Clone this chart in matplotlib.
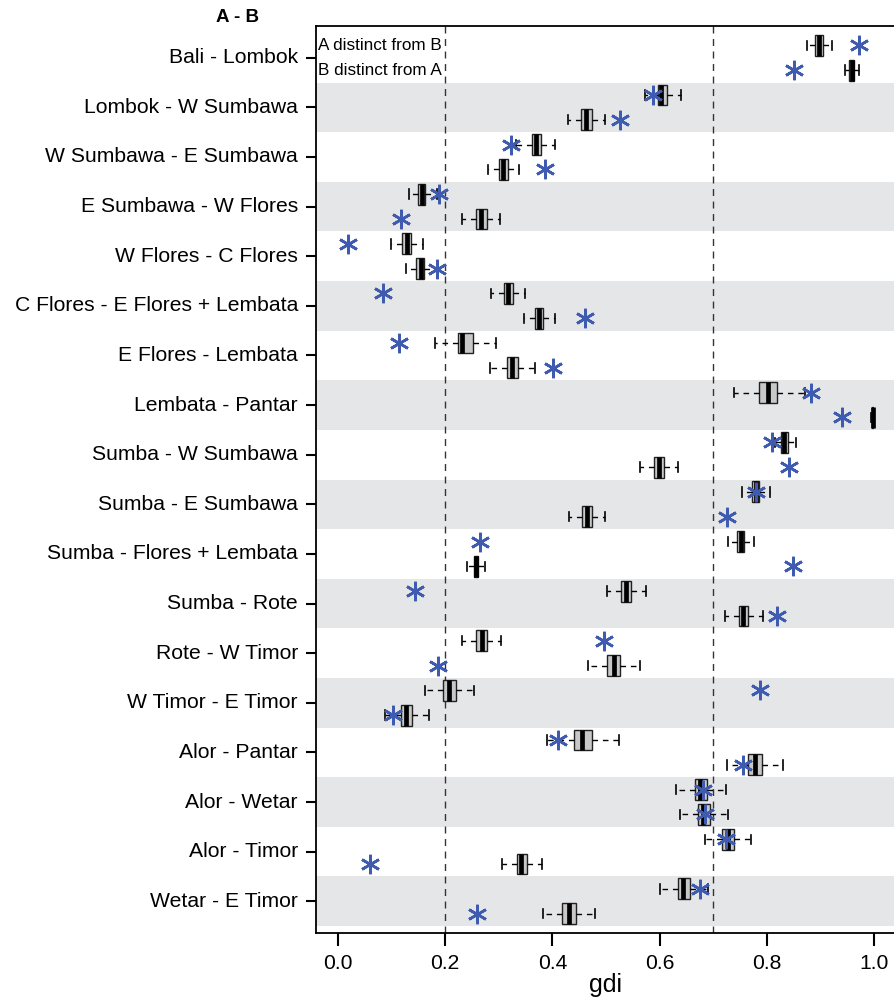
import numpy as np
import matplotlib
matplotlib.use('Agg')
import matplotlib.pyplot as plt

plt.rcParams['font.family'] = ['Liberation Sans', 'DejaVu Sans']

pairs = ['Bali - Lombok', 'Lombok - W Sumbawa', 'W Sumbawa - E Sumbawa', 'E Sumbawa - W Flores',
         'W Flores - C Flores', 'C Flores - E Flores + Lembata', 'E Flores - Lembata', 'Lembata - Pantar',
         'Sumba - W Sumbawa', 'Sumba - E Sumbawa', 'Sumba - Flores + Lembata', 'Sumba - Rote',
         'Rote - W Timor', 'W Timor - E Timor', 'Alor - Pantar', 'Alor - Wetar', 'Alor - Timor',
         'Wetar - E Timor']

# A distinct from B: whisker low, q1, median, q3, whisker high
a_lo = [0.874, 0.572, 0.332, 0.133, 0.098, 0.286, 0.181, 0.738, 0.815, 0.754, 0.727, 0.501,
        0.231, 0.163, 0.390, 0.630, 0.685, 0.600]
a_q1 = [0.890, 0.596, 0.361, 0.150, 0.120, 0.309, 0.224, 0.786, 0.826, 0.773, 0.745, 0.528,
        0.258, 0.196, 0.440, 0.666, 0.717, 0.635]
a_med = [0.897, 0.603, 0.370, 0.157, 0.128, 0.317, 0.232, 0.802, 0.832, 0.780, 0.751, 0.538,
         0.268, 0.207, 0.456, 0.676, 0.727, 0.644]
a_q3 = [0.904, 0.613, 0.378, 0.163, 0.137, 0.326, 0.251, 0.819, 0.840, 0.786, 0.757, 0.547,
        0.277, 0.220, 0.473, 0.689, 0.738, 0.657]
a_hi = [0.922, 0.639, 0.404, 0.184, 0.158, 0.349, 0.294, 0.871, 0.855, 0.806, 0.776, 0.574,
        0.304, 0.253, 0.524, 0.723, 0.770, 0.691]
a_obs = [0.972, 0.588, 0.323, 0.188, 0.019, 0.084, 0.114, 0.883, 0.810, 0.780, 0.265, 0.143,
         0.497, 0.787, 0.411, 0.681, 0.723, 0.675]

# B distinct from A
b_lo = [0.945, 0.429, 0.280, 0.232, 0.126, 0.346, 0.283, 0.995, 0.564, 0.430, 0.240, 0.722,
        0.466, 0.087, 0.725, 0.638, 0.305, 0.383]
b_q1 = [0.953, 0.453, 0.301, 0.258, 0.146, 0.368, 0.315, 0.996, 0.589, 0.455, 0.253, 0.748,
        0.501, 0.117, 0.765, 0.672, 0.333, 0.418]
b_med = [0.958, 0.463, 0.308, 0.267, 0.154, 0.374, 0.325, 0.997, 0.598, 0.464, 0.257, 0.756,
         0.514, 0.126, 0.777, 0.680, 0.342, 0.430]
b_q3 = [0.963, 0.473, 0.317, 0.277, 0.161, 0.383, 0.336, 0.998, 0.608, 0.473, 0.262, 0.765,
        0.526, 0.138, 0.790, 0.694, 0.352, 0.443]
b_hi = [0.971, 0.498, 0.337, 0.302, 0.184, 0.405, 0.368, 0.999, 0.635, 0.498, 0.275, 0.792,
        0.563, 0.169, 0.830, 0.728, 0.380, 0.479]
b_obs = [0.850, 0.526, 0.387, 0.117, 0.185, 0.461, 0.401, 0.940, 0.842, 0.725, 0.848, 0.818,
         0.187, 0.102, 0.756, 0.685, 0.060, 0.260]

thresholds = [0.2, 0.7]
xticks = [0.0, 0.2, 0.4, 0.6, 0.8, 1.0]


def make_stats(lo, q1, med, q3, hi):
    return [dict(whislo=l, q1=a, med=m, q3=b, whishi=h, fliers=[])
            for l, a, m, b, h in zip(lo, q1, med, q3, hi)]


n = len(pairs)
rows = np.arange(n)
off = 0.25

fig = plt.figure(figsize=(8.94, 10.01), dpi=100)
ax = fig.add_axes([316 / 894, 1 - 933 / 1001, 1 - 316 / 894, (933 - 26) / 1001])

# alternating bands
for i in rows:
    if i % 2 == 1:
        ax.axhspan(i - 0.5, i + 0.5, color='#e5e6e8', lw=0, zorder=0)

for x in thresholds:
    ax.axvline(x, color='#333333', lw=1.0, ls=(0, (5, 4)), zorder=1)

box_kw = dict(orientation='horizontal', widths=0.42, patch_artist=True, showfliers=False,
              capwidths=0.19, manage_ticks=False,
              boxprops=dict(facecolor='#c8c8c8', edgecolor='#222222', lw=1.0),
              medianprops=dict(color='black', lw=3.4, solid_capstyle='butt'),
              whiskerprops=dict(color='black', lw=1.0, ls=(0, (4, 3.5))),
              capprops=dict(color='black', lw=1.2))

ax.bxp(make_stats(a_lo, a_q1, a_med, a_q3, a_hi), positions=rows - off, **box_kw)
ax.bxp(make_stats(b_lo, b_q1, b_med, b_q3, b_hi), positions=rows + off, **box_kw)

star_kw = dict(ls='none', marker=(6, 2, 0), ms=14, mew=1.9, color='#3f5bb0', zorder=5)
ax.plot(a_obs, rows - off, **star_kw)
ax.plot(b_obs, rows + off, **star_kw)

ax.set_ylim(n - 0.5 + 0.14, -0.5 - 0.14)
ax.set_xlim(-0.041, 1.037)
ax.set_yticks(rows)
ax.set_yticklabels(pairs, fontsize=15.2, va='center')
ax.set_xticks(xticks)
ax.set_xticklabels(['%.1f' % t for t in xticks], fontsize=15.2)
ax.set_xlabel('gdi', fontsize=18, labelpad=0)
ax.tick_params(axis='y', length=7, width=1.5, pad=6)
ax.tick_params(axis='x', length=9, width=1.5, pad=6)
for s in ['left', 'bottom', 'top']:
    ax.spines[s].set_linewidth(1.3)
ax.spines['right'].set_visible(False)

ax.text(0.003, 0 - off, 'A distinct from B', fontsize=12.3, va='center', ha='left',
        transform=ax.get_yaxis_transform())
ax.text(0.003, 0 + off, 'B distinct from A', fontsize=12.3, va='center', ha='left',
        transform=ax.get_yaxis_transform())
fig.text(237 / 894, 1 - 17 / 1001, 'A - B', fontsize=13.5, fontweight='bold', ha='center', va='center')

fig.savefig('out.png', dpi=100)
